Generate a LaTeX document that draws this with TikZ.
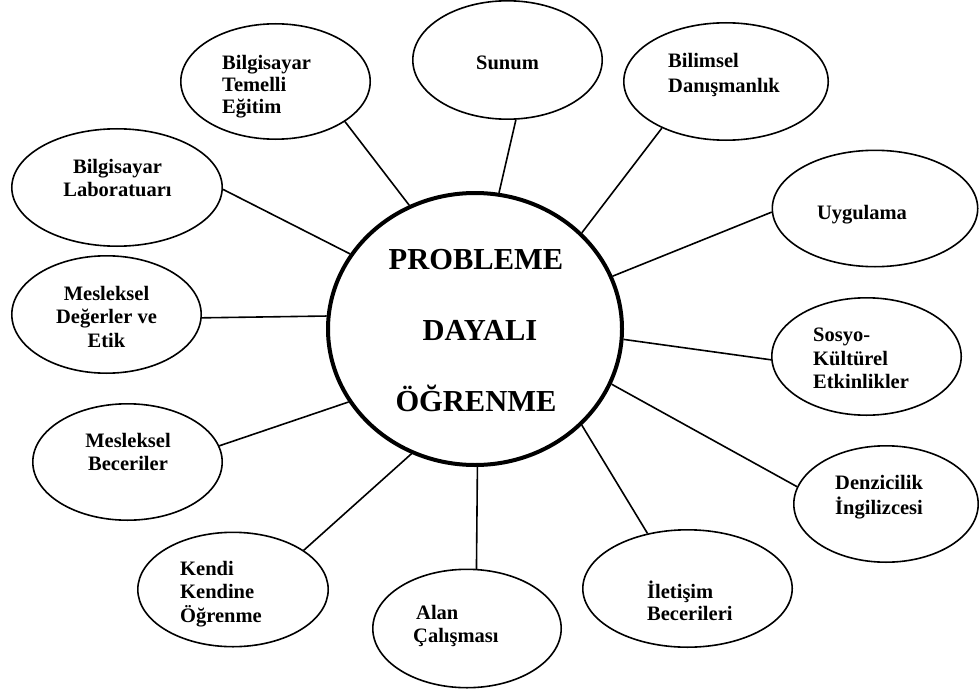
\documentclass[tikz,border=0pt]{standalone}
\usepackage{fontspec}
\setmainfont{Liberation Serif}
\usetikzlibrary{shapes.geometric}

\tikzset{
  topic/.style={draw, ellipse, line width=1.6pt, inner sep=0pt},
  hub/.style={draw, ellipse, line width=4pt, inner sep=0pt,
              minimum width=294pt, minimum height=272pt},
  topictext/.style={inner sep=0pt, font=\fontsize{20.5}{23.5}\selectfont\bfseries},
  widetext/.style={inner sep=0pt, font=\fontsize{20.5}{25}\selectfont\bfseries},
  tighttext/.style={inner sep=0pt, font=\fontsize{20.5}{22}\selectfont\bfseries},
  hubtext/.style={inner sep=0pt, align=center, font=\fontsize{30.5}{71}\selectfont\bfseries},
  conn/.style={line width=1.6pt},
}

\begin{document}
\begin{tikzpicture}[x=1pt, y=-1pt]
  % canvas
  \fill[white] (0,0) rectangle (979,690);
  \useasboundingbox (0,0) rectangle (979,690);

  % central topic
  \node[hub] (pdo) at (475,329) {};
  \node[hubtext, anchor=north] (pdotext) at (476,249.5)
    {PROBLEME\\\hspace*{8pt}DAYALI\\ÖĞRENME};

  % surrounding topics
  \node[topic, minimum width=189.4pt, minimum height=115.4pt] (e1) at (275.5,81.5) {};
  \node[topic, minimum width=189.4pt, minimum height=118.4pt] (e2) at (507.5,60) {};
  \node[topic, minimum width=204.4pt, minimum height=117.4pt] (e3) at (726,81.5) {};
  \node[topic, minimum width=205.4pt, minimum height=116.4pt] (e4) at (875,208.5) {};
  \node[topic, minimum width=189.4pt, minimum height=117.4pt] (e5) at (866.5,356.5) {};
  \node[topic, minimum width=184.4pt, minimum height=116.4pt] (e6) at (886,504) {};
  \node[topic, minimum width=209.4pt, minimum height=117.4pt] (e7) at (687.5,588.5) {};
  \node[topic, minimum width=188.4pt, minimum height=118.4pt] (e8) at (467,628.5) {};
  \node[topic, minimum width=190.4pt, minimum height=114.4pt] (e9) at (233,589.5) {};
  \node[topic, minimum width=189.4pt, minimum height=116.4pt] (e10) at (127.5,462) {};
  \node[topic, minimum width=189.4pt, minimum height=117.4pt] (e11) at (106.5,314.5) {};
  \node[topic, minimum width=210.4pt, minimum height=117.4pt] (e12) at (117,187.5) {};

  % topic labels
  \node[tighttext, align=left, anchor=north west] (t1) at (222,55) {Bilgisayar\\Temelli\\Eğitim};
  \node[topictext, anchor=base] (t2) at (507.5,70) {Sunum};
  \node[widetext, align=left, anchor=north west] (t3) at (668,53) {Bilimsel\\Danışmanlık};
  \node[topictext, anchor=base] (t4) at (862,219) {Uygulama};
  \node[topictext, align=left, anchor=north west] (t5) at (813,328) {Sosyo-\\Kültürel\\Etkinlikler};
  \node[widetext, align=left, anchor=north west] (t6) at (835,475) {Denzicilik\\İngilizcesi};
  \node[tighttext, align=left, anchor=north west] (t7) at (647,580.5) {İletişim\\Becerileri};
  \node[topictext, align=left, anchor=north west] (t8) at (413,605) {\hspace*{3pt}Alan\\Çalışması};
  \node[topictext, align=left, anchor=north west] (t9) at (180,561) {Kendi\\Kendine\\Öğrenme};
  \node[topictext, align=center, anchor=north] (t10) at (128,433) {Mesleksel\\Beceriler};
  \node[topictext, align=center, anchor=north] (t11) at (106.5,286) {Mesleksel\\Değerler ve\\Etik};
  \node[topictext, align=center, anchor=north] (t12) at (117.5,159) {Bilgisayar\\Laboratuarı};

  % connectors from each topic to the central topic
  \draw[conn] (e1.-30.5)  -- (pdo.118.5);
  \draw[conn] (e2.-82.9)  -- (pdo.80.9);
  \draw[conn] (e3.216.9)  -- (pdo.42.0);
  \draw[conn] (e4.182.2)  -- (pdo.21.4);
  \draw[conn] (e5.182.1)  -- (pdo.-4.1);
  \draw[conn] (e6.169.6)  -- (pdo.-22.2);
  \draw[conn] (e7.126.3)  -- (pdo.-42.5);
  \draw[conn] (e8.81.0)   -- (pdo.-89.6);
  \draw[conn] (e9.29.5)   -- (pdo.-117.6);
  \draw[conn] (e10.10.7)  -- (pdo.210.4);
  \draw[conn] (e11.-2.1)  -- (pdo.175.7);
  \draw[conn] (e12.-1.9)  -- (pdo.149.4);
\end{tikzpicture}
\end{document}
